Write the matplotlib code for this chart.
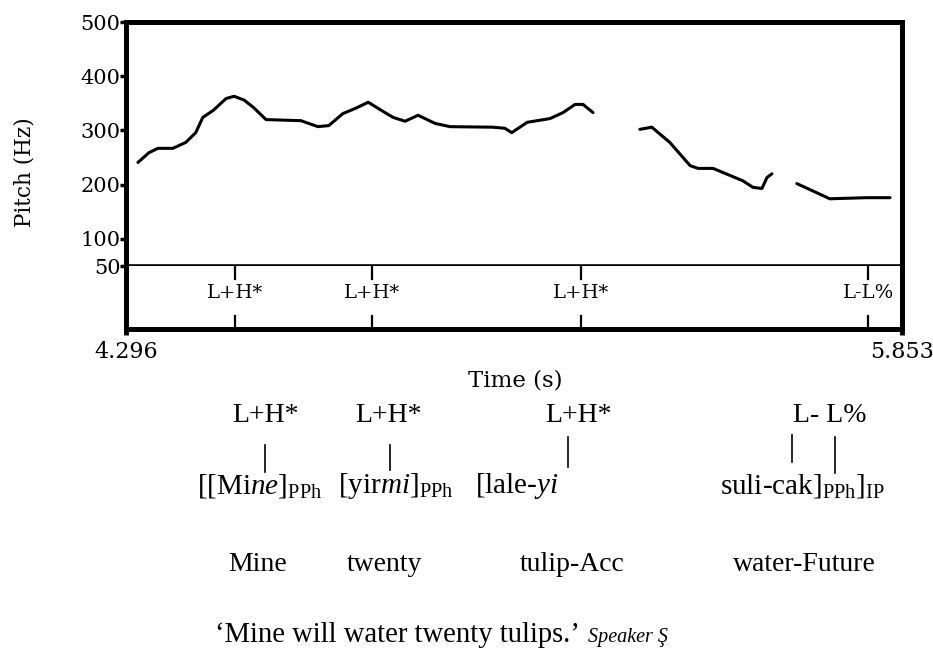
import matplotlib
matplotlib.use("Agg")
import matplotlib.pyplot as plt
from matplotlib.lines import Line2D

# ---------------- data ----------------
t_start, t_end = 4.296, 5.853

seg1_t = [4.320, 4.342, 4.360, 4.390, 4.416, 4.436, 4.450, 4.471, 4.497, 4.513,
          4.533, 4.551, 4.577, 4.647, 4.681, 4.703, 4.731, 4.757, 4.782, 4.812,
          4.832, 4.856, 4.882, 4.916, 4.946, 5.032, 5.056, 5.070, 5.101, 5.121,
          5.147, 5.173, 5.197, 5.213, 5.233]
seg1_hz = [241, 259, 267, 267, 278, 296, 324, 337, 359, 363,
           356, 343, 320, 318, 307, 309, 331, 341, 352, 335,
           324, 317, 328, 313, 307, 306, 304, 296, 315, 318,
           322, 333, 348, 348, 333]

seg2_t = [5.327, 5.351, 5.387, 5.428, 5.444, 5.474, 5.534, 5.554, 5.572, 5.582, 5.592]
seg2_hz = [302, 306, 278, 235, 230, 230, 207, 195, 193, 213, 220]

seg3_t = [5.642, 5.708, 5.783, 5.829]
seg3_hz = [202, 174, 176, 176]

pitch_ticks = [50, 100, 200, 300, 400, 500]

tone_times = [4.515, 4.790, 5.209, 5.785]
tone_labels = ["L+H*", "L+H*", "L+H*", "L-L%"]

gloss_tones = ["L+H*", "L+H*", "L+H*", "L- L%"]
words = [r"[[Mi$\mathit{ne}$]$_{\mathrm{PPh}}$",
         r"[yir$\mathit{mi}$]$_{\mathrm{PPh}}$",
         r"[lale-$\mathit{yi}$",
         r"suli-cak]$_{\mathrm{PPh}}$]$_{\mathrm{IP}}$"]
glosses = ["Mine", "twenty", "tulip-Acc", "water-Future"]
translation = "\u2018Mine will water twenty tulips.\u2019"
speaker = "Speaker \u015e"

# ---------------- layout ----------------
plt.rcParams["mathtext.fontset"] = "custom"
plt.rcParams["mathtext.rm"] = "Liberation Serif"
plt.rcParams["mathtext.it"] = "Liberation Serif:italic"

W, H = 933, 655
fig = plt.figure(figsize=(W / 100, H / 100), dpi=100)
fig.patch.set_facecolor("white")


def fx(x):
    return x / W


def fy(y):
    return 1 - y / H


PRAAT = "DejaVu Serif"
TIMES = "Liberation Serif"
L, R, T, B1, B2 = 126, 902, 22, 266, 329

ax = fig.add_axes([fx(L), fy(B1), (R - L) / W, (B1 - T) / H])
for t, hz in ((seg1_t, seg1_hz), (seg2_t, seg2_hz), (seg3_t, seg3_hz)):
    ax.plot(t, hz, color="black", lw=2.2, solid_joinstyle="round",
            solid_capstyle="round")
ax.set_xlim(t_start, t_end)
ax.set_ylim(50, 500)
ax.set_xticks([])
ax.set_yticks(pitch_ticks)
ax.set_yticklabels([str(v) for v in pitch_ticks], family=PRAAT, fontsize=15)
ax.tick_params(axis="y", direction="out", length=4, width=2.5, pad=0)
for s in ("left", "top", "right"):
    ax.spines[s].set_linewidth(3.6)
ax.spines["bottom"].set_linewidth(2.6)
fig.text(fx(25), fy(172), "Pitch (Hz)", rotation=90, ha="center", va="center",
         family=PRAAT, fontsize=15.5)

ax2 = fig.add_axes([fx(L), fy(B2), (R - L) / W, (B2 - B1) / H])
ax2.set_xlim(t_start, t_end)
ax2.set_ylim(0, 1)
ax2.set_yticks([])
ax2.set_xticks([t_start, t_end])
ax2.set_xticklabels(["4.296", "5.853"], family=PRAAT, fontsize=16)
ax2.tick_params(axis="x", direction="out", length=4, width=3.5, pad=5)
ax2.spines["top"].set_visible(False)
for s in ("left", "right", "bottom"):
    ax2.spines[s].set_linewidth(3.6)
for t, lab in zip(tone_times, tone_labels):
    ax2.plot([t, t], [1, 0.80], color="black", lw=1.6)
    ax2.plot([t, t], [0, 0.20], color="black", lw=1.6)
    ax2.text(t, 0.57, lab, ha="center", va="center", family=PRAAT, fontsize=14)

fig.text(fx(515), fy(381), "Time (s)", ha="center", va="center",
         family=PRAAT, fontsize=16.5)

# ---------------- annotation below ----------------
FS = 20
tone_x = [265, 388, 578, 830]
for x, s in zip(tone_x, gloss_tones):
    fig.text(fx(x), fy(422), s, ha="center", va="baseline", family=TIMES, fontsize=FS)

bars = [(265, 445, 472), (390, 445, 470), (568, 437, 467), (792, 435, 462), (835, 437, 473)]
for x, y0, y1 in bars:
    fig.add_artist(Line2D([fx(x), fx(x)], [fy(y0), fy(y1)], color="black", lw=1.2,
                          transform=fig.transFigure))

word_x = [197, 338, 475, 720]
for x, s in zip(word_x, words):
    fig.text(fx(x), fy(493), s, ha="left", va="baseline", family=TIMES, fontsize=21)

gloss_x = [228, 347, 520, 733]
for x, s in zip(gloss_x, glosses):
    fig.text(fx(x), fy(571), s, ha="left", va="baseline", family=TIMES, fontsize=FS)

fig.text(fx(215), fy(642), translation, ha="left", va="baseline", family=TIMES, fontsize=20.6)
fig.text(fx(588), fy(642), speaker, ha="left", va="baseline", family=TIMES,
         style="italic", fontsize=14.5)

fig.savefig("out.png", dpi=100, facecolor="white")
